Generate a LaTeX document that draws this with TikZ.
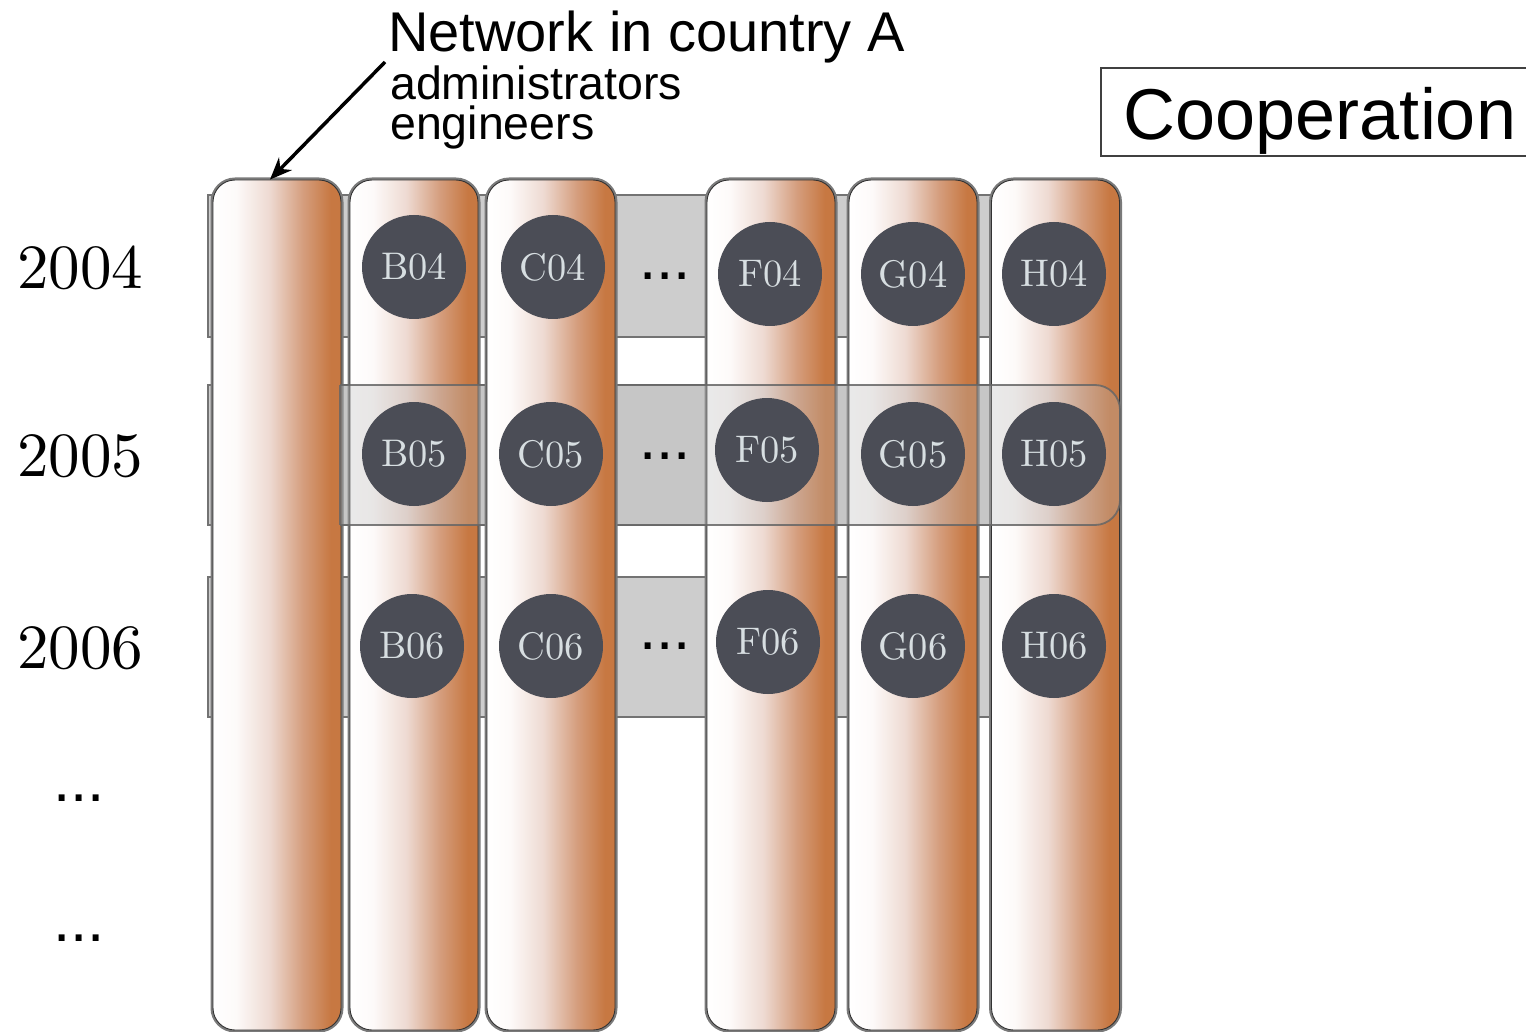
\documentclass[tikz,border=0pt]{standalone}
\usepackage{fontspec}
\newfontfamily\arialf{Liberation Sans}
\newfontfamily\cmten{lmroman10-regular}[Extension=.otf]
\usetikzlibrary{arrows.meta}
\definecolor{cwhite}{RGB}{253,250,249}
\definecolor{cmid}{RGB}{238,218,210}
\definecolor{ctan}{RGB}{213,158,126}
\definecolor{corange}{RGB}{199,120,66}
\definecolor{discgray}{RGB}{75,77,86}
\definecolor{disctext}{RGB}{215,222,225}
\definecolor{bandgray}{RGB}{205,205,205}
\pgfdeclarehorizontalshading{colgrad}{100bp}{color(0bp)=(white); color(25bp)=(white); color(34bp)=(cwhite); color(47bp)=(cmid); color(60bp)=(ctan); color(71bp)=(corange); color(100bp)=(corange)}
\begin{document}
\begin{tikzpicture}[x=1pt,y=-1pt,
  colbox/.style={rectangle, rounded corners=22pt, minimum width=128pt, minimum height=850pt, inner sep=0pt,
    shade, shading=colgrad, shading angle=0, draw=black!80, line width=0.9pt,
    preaction={draw=black!52, line width=5pt}},
  disc/.style={circle, fill=discgray, minimum size=104pt, inner sep=0pt, text=disctext,
    font=\cmten\fontsize{38.5}{38.5}\selectfont},
  yearlbl/.style={font=\cmten\fontsize{63}{63}\selectfont, inner sep=0pt},
  dotsl/.style={font=\arialf\fontsize{62}{62}\selectfont, inner sep=0pt},
  bandbg/.style={fill=bandgray, draw=black!55, line width=1.8pt},
  bandov/.style={fill=gray!55, fill opacity=0.3, draw=black!60, draw opacity=0.85, line width=1.8pt, rounded corners=25pt},
  bandedge/.style={draw=black!60, draw opacity=0.85, line width=1.8pt},
  arrowstyle/.style={line width=3.5pt, -{Stealth[length=22pt,width=18pt]}},
  titlebig/.style={font=\arialf\fontsize{56}{56}\selectfont, inner sep=0pt, anchor=base west},
  titlesmall/.style={font=\arialf\fontsize{46.5}{46.5}\selectfont, inner sep=0pt, anchor=base west},
  coopbox/.style={draw=black!75, line width=1.3pt, minimum width=432pt, minimum height=88pt, inner sep=0pt},
  cooptext/.style={font=\arialf\fontsize{72}{72}\selectfont, inner sep=0pt, anchor=base}
]
\useasboundingbox (0,0) rectangle (1526,1032);

% background bands
\path[bandbg] (208,195) rectangle (1110,337);
\path[bandbg] (208,385) rectangle (1110,525);
\path[bandbg] (208,577) rectangle (1110,717);

% columns
\node[colbox] (colA) at (277,605) {};
\node[colbox] (colB) at (414,605) {};
\node[colbox] (colF) at (771,605) {};
\node[colbox] (colG) at (913,605) {};
\node[colbox] (colH) at (1055.5,605) {};

% overlay band 2005
\begin{scope}
  \clip (340,370) rectangle (1140,540);
  \path[bandov] (300,385) rectangle (1120,525);
\end{scope}
\draw[bandedge] (340,385) -- (340,525);

\node[colbox] (colC) at (551,605) {};

% discs
\node[disc] (B04) at (414,267) {B04};
\node[disc] (C04) at (553,267) {C04};
\node[disc] (F04) at (770,274) {F04};
\node[disc] (G04) at (913,274) {G04};
\node[disc] (H04) at (1054,274) {H04};
\node[disc] (B05) at (414,454) {B05};
\node[disc] (C05) at (551,454) {C05};
\node[disc] (F05) at (767,450) {F05};
\node[disc] (G05) at (913,454) {G05};
\node[disc] (H05) at (1054,454) {H05};
\node[disc] (B06) at (412,646) {B06};
\node[disc] (C06) at (551,646) {C06};
\node[disc] (F06) at (768,642) {F06};
\node[disc] (G06) at (913,646) {G06};
\node[disc] (H06) at (1054,646) {H06};

% dots between C and F
\node[dotsl] (d04) at (665,276) {...};
\node[dotsl] (d05) at (665,456) {...};
\node[dotsl] (d06) at (665,646) {...};

% years
\node[yearlbl] (y04) at (80,268) {2004};
\node[yearlbl] (y05) at (80,456) {2005};
\node[yearlbl] (y06) at (80,648) {2006};
\node[dotsl] (yd1) at (79,798) {...};
\node[dotsl] (yd2) at (79,938) {...};

% title
\node[titlebig] (ttl) at (388,52) {Network in country A};
\node[titlesmall] (adm) at (390,100) {administrators};
\node[titlesmall] (eng) at (390,140) {engineers};
\coordinate (arrstart) at (385,62);
\draw[arrowstyle] (arrstart) -- ([xshift=-7pt]colA.north);

% cooperation
\node[coopbox] (coop) at (1317,112) {};
\node[cooptext] (cooptxt) at (1320,140) {Cooperation};
\end{tikzpicture}
\end{document}
